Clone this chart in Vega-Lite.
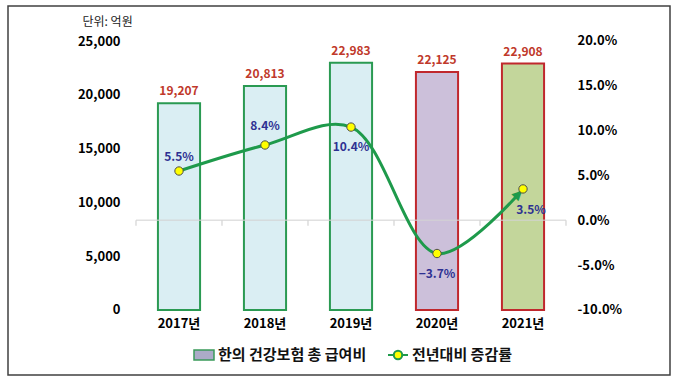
{
  "$schema": "https://vega.github.io/schema/vega-lite/v6.json",
  "width": 662,
  "height": 369,
  "autosize": "none",
  "padding": {"left": 8, "top": 6, "right": 10, "bottom": 4},
  "background": "white",
  "config": {"view": {"stroke": "#404040", "strokeWidth": 1.5}, "font": "Noto Sans CJK KR"},
  "data": {"values": [
    {"year": "2017년", "value": 19207, "pct": 0.055},
    {"year": "2018년", "value": 20813, "pct": 0.084},
    {"year": "2019년", "value": 22983, "pct": 0.104},
    {"year": "2020년", "value": 22125, "pct": -0.037},
    {"year": "2021년", "value": 22908, "pct": 0.035}
  ]},
  "layer": [
    {
      "resolve": {"scale": {"fill": "independent"}},
      "layer": [
        {
          "mark": {"type": "bar", "strokeWidth": 2},
          "encoding": {
            "x": {"field": "year", "type": "nominal", "sort": null,
              "scale": {"domain": ["2017년", "2018년", "2019년", "2020년", "2021년"], "range": [128, 558], "paddingInner": 0.51, "paddingOuter": 0.255},
              "axis": {"orient": "bottom", "offset": -65, "title": null, "domain": false, "ticks": false, "labelAngle": 0, "labelFont": "Noto Sans CJK KR", "labelFontSize": 13, "labelFontWeight": "bold", "labelColor": "#000", "labelPadding": 7}},
            "y": {"field": "value", "type": "quantitative",
              "scale": {"domain": [-6041, 28253], "nice": false, "zero": false},
              "axis": {"orient": "left", "offset": -114, "values": [0, 5000, 10000, 15000, 20000, 25000], "format": ",d", "grid": false, "domain": false, "ticks": false, "labelFont": "Noto Sans CJK KR", "labelFontSize": 13, "labelFontWeight": "bold", "labelColor": "#000", "labelPadding": 2, "title": "단위: 억원", "titleAngle": 0, "titleAlign": "left", "titleBaseline": "middle", "titleX": -40, "titleY": 15, "titleFont": "Noto Sans CJK KR", "titleFontSize": 12, "titleFontWeight": "normal", "titleColor": "#222"}},
            "fill": {"field": "year", "type": "nominal", "scale": {"domain": ["2017년", "2018년", "2019년", "2020년", "2021년"], "range": ["#DAEEF3", "#DAEEF3", "#DAEEF3", "#CCC0DA", "#C3D69B"]}, "legend": null},
            "stroke": {"field": "year", "type": "nominal", "scale": {"domain": ["2017년", "2018년", "2019년", "2020년", "2021년"], "range": ["#2A9A52", "#2A9A52", "#2A9A52", "#C0282D", "#C0282D"]}, "legend": null}
          }
        },
        {
          "mark": {"type": "text", "baseline": "bottom", "dy": -5, "fontSize": 12, "fontWeight": "bold", "color": "#C0392B", "font": "Noto Sans CJK KR"},
          "encoding": {
            "x": {"field": "year", "type": "nominal", "sort": null},
            "y": {"field": "value", "type": "quantitative"},
            "text": {"field": "value", "type": "quantitative", "format": ",d"}
          }
        },
        {
          "mark": {"type": "point", "filled": true, "opacity": 0, "shape": "M-1,-0.5H1V0.5H-1Z", "stroke": "#3A9A5A", "strokeWidth": 1.5},
          "encoding": {
            "x": {"field": "year", "type": "nominal", "sort": null},
            "y": {"field": "value", "type": "quantitative"},
            "fill": {"datum": "한의 건강보험 총 급여비", "scale": {"range": ["#ABABC8"]},
              "legend": {"orient": "none", "legendX": 185, "legendY": 338, "title": null, "symbolType": "M-1,-0.5H1V0.5H-1Z", "symbolSize": 400, "labelFont": "Noto Sans CJK KR", "labelFontSize": 15, "labelFontWeight": "bold", "labelColor": "#111", "labelOffset": 3, "labelLimit": 300}}
          }
        }
      ]
    },
    {
      "layer": [
        {
          "mark": {"type": "tick", "orient": "horizontal", "size": 86, "thickness": 1.5, "color": "#D3D3D3"},
          "encoding": {
            "x": {"field": "year", "type": "nominal", "sort": null},
            "y": {"datum": 0, "type": "quantitative", "scale": {"domain": [-0.17249, 0.23903], "nice": false, "zero": false},
              "axis": {"orient": "right", "offset": -95, "values": [-0.1, -0.05, 0, 0.05, 0.1, 0.15, 0.2], "format": ".1%", "labelExpr": "replace(datum.label, '−', '-')", "grid": false, "domain": false, "ticks": false, "labelFont": "Noto Sans CJK KR", "labelFontSize": 13, "labelFontWeight": "bold", "labelColor": "#000", "labelPadding": 2, "title": null}}
          }
        },
        {
          "mark": {"type": "rule", "xOffset": -43, "color": "#D3D3D3", "strokeWidth": 1.2},
          "encoding": {
            "x": {"field": "year", "type": "nominal", "sort": null},
            "y": {"datum": 0, "type": "quantitative", "scale": {"domain": [-0.17249, 0.23903], "nice": false, "zero": false}},
            "y2": {"datum": -0.006}
          }
        },
        {
          "transform": [{"filter": "datum.year == '2021년'"}],
          "mark": {"type": "rule", "xOffset": 43, "color": "#D3D3D3", "strokeWidth": 1.2},
          "encoding": {
            "x": {"field": "year", "type": "nominal", "sort": null},
            "y": {"datum": 0, "type": "quantitative", "scale": {"domain": [-0.17249, 0.23903], "nice": false, "zero": false}},
            "y2": {"datum": -0.006}
          }
        },
        {
          "mark": {"type": "line", "interpolate": "catmull-rom", "stroke": "#1E9A4B", "strokeWidth": 3},
          "encoding": {
            "x": {"field": "year", "type": "nominal", "sort": null},
            "y": {"field": "pct", "type": "quantitative", "scale": {"domain": [-0.17249, 0.23903], "nice": false, "zero": false}}
          }
        },
        {
          "transform": [{"filter": "datum.year == '2021년'"}],
          "mark": {"type": "text", "text": "▶", "font": "DejaVu Sans", "fontSize": 13, "angle": -45, "dx": -7, "align": "center", "baseline": "middle", "color": "#1E9A4B"},
          "encoding": {
            "x": {"field": "year", "type": "nominal", "sort": null},
            "y": {"field": "pct", "type": "quantitative", "scale": {"domain": [-0.17249, 0.23903], "nice": false, "zero": false}}
          }
        },
        {
          "mark": {"type": "point", "filled": true, "fill": "#FFFF00", "stroke": "#4D4D4D", "strokeWidth": 1, "size": 70, "opacity": 1},
          "encoding": {
            "x": {"field": "year", "type": "nominal", "sort": null},
            "y": {"field": "pct", "type": "quantitative", "scale": {"domain": [-0.17249, 0.23903], "nice": false, "zero": false}}
          }
        },
        {
          "transform": [{"filter": "datum.year == '2017년'"}],
          "mark": {"type": "text", "baseline": "middle", "dy": -14, "fontSize": 12, "fontWeight": "bold", "color": "#2E3192", "font": "Noto Sans CJK KR"},
          "encoding": {
            "x": {"field": "year", "type": "nominal", "sort": null},
            "y": {"field": "pct", "type": "quantitative", "scale": {"domain": [-0.17249, 0.23903], "nice": false, "zero": false}},
            "text": {"field": "pct", "type": "quantitative", "format": ".1%"}
          }
        },
        {
          "transform": [{"filter": "datum.year == '2018년'"}],
          "mark": {"type": "text", "baseline": "middle", "dy": -19, "fontSize": 12, "fontWeight": "bold", "color": "#2E3192", "font": "Noto Sans CJK KR"},
          "encoding": {
            "x": {"field": "year", "type": "nominal", "sort": null},
            "y": {"field": "pct", "type": "quantitative", "scale": {"domain": [-0.17249, 0.23903], "nice": false, "zero": false}},
            "text": {"field": "pct", "type": "quantitative", "format": ".1%"}
          }
        },
        {
          "transform": [{"filter": "datum.year == '2019년' || datum.year == '2020년'"}],
          "mark": {"type": "text", "baseline": "middle", "dy": 20, "fontSize": 12, "fontWeight": "bold", "color": "#2E3192", "font": "Noto Sans CJK KR"},
          "encoding": {
            "x": {"field": "year", "type": "nominal", "sort": null},
            "y": {"field": "pct", "type": "quantitative", "scale": {"domain": [-0.17249, 0.23903], "nice": false, "zero": false}},
            "text": {"field": "pct", "type": "quantitative", "format": ".1%"}
          }
        },
        {
          "transform": [{"filter": "datum.year == '2021년'"}],
          "mark": {"type": "text", "baseline": "middle", "dy": 21, "dx": 8, "fontSize": 12, "fontWeight": "bold", "color": "#2E3192", "font": "Noto Sans CJK KR"},
          "encoding": {
            "x": {"field": "year", "type": "nominal", "sort": null},
            "y": {"field": "pct", "type": "quantitative", "scale": {"domain": [-0.17249, 0.23903], "nice": false, "zero": false}},
            "text": {"field": "pct", "type": "quantitative", "format": ".1%"}
          }
        },
        {
          "mark": {"type": "point", "filled": true, "fill": "#FFFF00", "opacity": 0, "shape": "M-1,0H-0.42M0.42,0H1M-0.42,0A0.42,0.42 0 1,0 0.42,0A0.42,0.42 0 1,0 -0.42,0Z", "strokeWidth": 2},
          "encoding": {
            "x": {"field": "year", "type": "nominal", "sort": null},
            "y": {"field": "pct", "type": "quantitative", "scale": {"domain": [-0.17249, 0.23903], "nice": false, "zero": false}},
            "stroke": {"datum": "전년대비 증감률", "scale": {"range": ["#1E9A4B"]},
              "legend": {"orient": "none", "legendX": 379, "legendY": 338, "title": null, "symbolType": "M-1,0H-0.42M0.42,0H1M-0.42,0A0.42,0.42 0 1,0 0.42,0A0.42,0.42 0 1,0 -0.42,0Z", "symbolSize": 400, "symbolFillColor": "#FFFF00", "symbolStrokeWidth": 2, "labelFont": "Noto Sans CJK KR", "labelFontSize": 15, "labelFontWeight": "bold", "labelColor": "#111", "labelOffset": 3, "labelLimit": 300}}
          }
        }
      ]
    }
  ],
  "resolve": {"scale": {"y": "independent", "fill": "independent", "stroke": "independent"}}
}
